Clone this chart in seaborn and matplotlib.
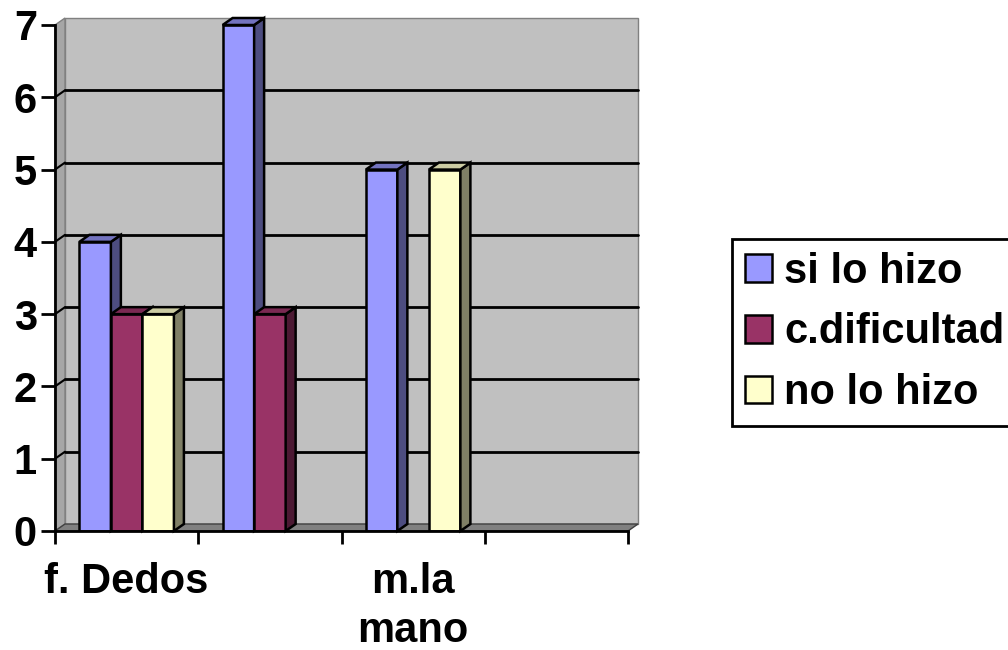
import pandas as pd
import seaborn as sns
import matplotlib.pyplot as plt
from matplotlib.patches import Polygon, Rectangle, Patch

# --- DATI ---
categorie = ["f. Dedos", "cat 2", "m.la mano", "cat 4"]
etichette_x = ["f. Dedos", "", "m.la\nmano", ""]
serie = ["si lo hizo", "c.dificultad", "no lo hizo"]
si_lo_hizo = [4, 7, 5, 0]
con_dificultad = [3, 3, 0, 0]
no_lo_hizo = [3, 0, 5, 0]

colori = {"si lo hizo": "#9999FF", "c.dificultad": "#993366", "no lo hizo": "#FFFFCC"}
colori_lato = {"si lo hizo": "#4D4D80", "c.dificultad": "#4C1933", "no lo hizo": "#7F7F66"}
colori_sopra = {"si lo hizo": "#7373BF", "c.dificultad": "#7A2952", "no lo hizo": "#CCCCA3"}

df = pd.DataFrame({
    "Categoria": categorie * 3,
    "Serie": [s for s in serie for _ in categorie],
    "Valore": si_lo_hizo + con_dificultad + no_lo_hizo,
})

# --- STILE ---
sns.set_style("white")
plt.rcParams["font.family"] = ["Liberation Sans", "DejaVu Sans"]
plt.rcParams["font.weight"] = "bold"
plt.rcParams["text.color"] = "black"
plt.rcParams["xtick.color"] = "black"
plt.rcParams["ytick.color"] = "black"

W, H = 1008, 650
fig = plt.figure(figsize=(W / 100, H / 100), dpi=100)
ax = fig.add_axes([55 / W, 119 / H, 573 / W, 506 / H])

sns.barplot(data=df, x="Categoria", y="Valore", hue="Serie", order=categorie,
            hue_order=serie, palette=colori, saturation=1, width=0.66,
            edgecolor="black", linewidth=1.8, ax=ax, legend=False)

ax.set_xlim(-0.5, 3.5)
ax.set_ylim(0, 7)
ax.set_facecolor("none")

# profondita' 3D (10 px a destra, 7 px in alto)
dx = 10 / (573 / 4)
dy = 7 / (506 / 7)

# parete di fondo, parete sinistra, pavimento
ax.add_patch(Rectangle((-0.5 + dx, dy), 4, 7, facecolor="#C0C0C0", edgecolor="#808080",
                       linewidth=1, zorder=0, clip_on=False))
ax.add_patch(Polygon([(-0.5, 0), (-0.5, 7), (-0.5 + dx, 7 + dy), (-0.5 + dx, dy)],
                     facecolor="#A6A6A6", edgecolor="#808080", linewidth=1, zorder=0.2, clip_on=False))
for k in range(1, 7):
    ax.plot([-0.5 + dx, 3.5 + dx], [k + dy, k + dy], color="black", linewidth=2, zorder=0.5, clip_on=False)
    ax.plot([-0.5, -0.5 + dx], [k, k + dy], color="black", linewidth=1.5, zorder=0.5, clip_on=False)
ax.add_patch(Polygon([(-0.5, 0), (3.5, 0), (3.5 + dx, dy), (-0.5 + dx, dy)],
                     facecolor="#808080", edgecolor="#404040", linewidth=1, zorder=0.6, clip_on=False))

# barre 3D
for i, cont in enumerate(ax.containers):
    s = serie[i]
    for p in cont:
        h = p.get_height()
        if h <= 0:
            p.set_visible(False)
            continue
        x0 = p.get_x()
        x1 = x0 + p.get_width()
        z = 2 + i * 0.1
        p.set_zorder(z)
        ax.add_patch(Polygon([(x1, 0), (x1, h), (x1 + dx, h + dy), (x1 + dx, dy)],
                             facecolor=colori_lato[s], edgecolor="black", linewidth=1.8,
                             joinstyle="miter", zorder=z, clip_on=False))
        ax.add_patch(Polygon([(x0, h), (x1, h), (x1 + dx, h + dy), (x0 + dx, h + dy)],
                             facecolor=colori_sopra[s], edgecolor="black", linewidth=1.8,
                             joinstyle="miter", zorder=z, clip_on=False))

# assi
for lato in ["top", "right"]:
    ax.spines[lato].set_visible(False)
for lato in ["left", "bottom"]:
    ax.spines[lato].set_color("black")
    ax.spines[lato].set_linewidth(2)
    ax.spines[lato].set_zorder(5)

ax.set_yticks(range(8))
ax.tick_params(axis="y", left=True, length=10, width=2, color="black", pad=3, labelsize=30)
ax.set_xticks(range(4))
ax.set_xticklabels(etichette_x)
ax.set_xticks([-0.5, 0.5, 1.5, 2.5, 3.5], minor=True)
ax.tick_params(axis="x", which="major", bottom=True, length=0, pad=22, labelsize=30)
ax.tick_params(axis="x", which="minor", bottom=True, length=9, width=2, color="black")
for lbl in ax.get_xticklabels():
    lbl.set_linespacing(1.3)
ax.set_xlabel("")
ax.set_ylabel("")

# legenda
maniglie = [Patch(facecolor=colori[s], edgecolor="black", linewidth=1.8, label=s) for s in serie]
leg = fig.legend(handles=maniglie, loc="upper left", bbox_to_anchor=(732 / W, 1 - 239 / H),
                 frameon=True, fancybox=False, edgecolor="black", framealpha=1,
                 prop={"size": 30, "weight": "bold"}, handlelength=0.65, handleheight=0.65,
                 handletextpad=0.3, labelspacing=0.5, borderpad=0.3, borderaxespad=0)
leg.get_frame().set_linewidth(2)

fig.savefig("out.png", dpi=100)
